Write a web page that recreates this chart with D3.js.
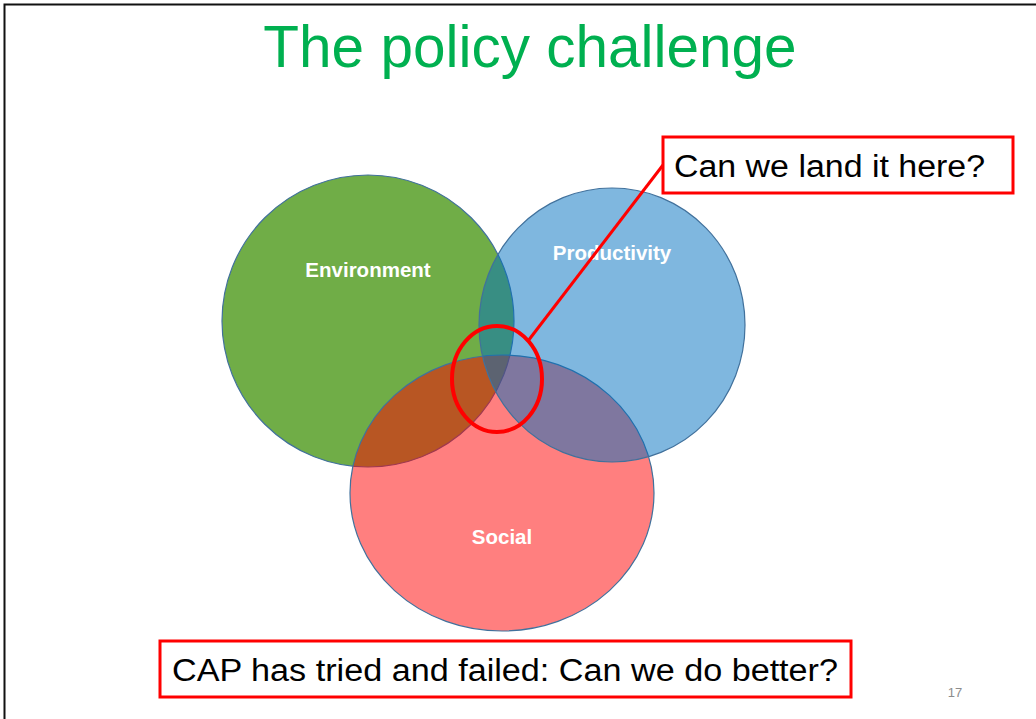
<!DOCTYPE html>
<html>
<head>
<meta charset="utf-8">
<script src="https://cdn.jsdelivr.net/npm/d3@7"></script>
<style>
  html, body { margin: 0; padding: 0; background: #fff; }
  svg { display: block; }
</style>
</head>
<body>
<div id="chart"></div>
<script>
// Data
var titleText = "The policy challenge";
var setNames = ["Environment", "Social", "Productivity"];
var calloutText = "Can we land it here?";
var footerText = "CAP has tried and failed: Can we do better?";
var pageNumber = "17";

// layout (pixel geometry, kept apart from the data)
var setShape = {
  "Environment": {cx: 368, cy: 321, rx: 146, ry: 146, lx: 368, ly: 277, fill: "#70AD47", op: 1},
  "Social":      {cx: 502, cy: 493, rx: 152, ry: 138, lx: 502, ly: 544, fill: "#FF0000", op: 0.5},
  "Productivity":{cx: 612, cy: 325, rx: 133, ry: 137, lx: 612, ly: 260, fill: "#0070C0", op: 0.5}
};
var focus = {cx: 497, cy: 379, rx: 45, ry: 53};
var calloutBox = {x: 663, y: 137, w: 350, h: 56};
var footerBox = {x: 160, y: 641, w: 691, h: 56};

var W = 1036, H = 719;
var svg = d3.select("#chart")
    .append("svg")
    .attr("width", W)
    .attr("height", H);

// slide frame (top and left edges are visible)
svg.append("path")
    .attr("d", "M4.5," + H + " L4.5,4.5 L" + W + ",4.5")
    .attr("fill", "none")
    .attr("stroke", "#111")
    .attr("stroke-width", 2);

svg.append("text")
    .attr("x", 530)
    .attr("y", 67)
    .attr("text-anchor", "middle")
    .style("font-family", "Liberation Sans, Arial, sans-serif")
    .style("font-size", "58.5px")
    .attr("fill", "#00B050")
    .text(titleText);

// circles
svg.selectAll("ellipse.set")
    .data(setNames)
    .enter()
    .append("ellipse")
    .attr("class", "set")
    .attr("cx", function(d) { return setShape[d].cx; })
    .attr("cy", function(d) { return setShape[d].cy; })
    .attr("rx", function(d) { return setShape[d].rx; })
    .attr("ry", function(d) { return setShape[d].ry; })
    .attr("fill", function(d) { return setShape[d].fill; })
    .attr("fill-opacity", function(d) { return setShape[d].op; })
    .attr("stroke", "#41719C")
    .attr("stroke-width", 1.2);

svg.selectAll("text.lbl")
    .data(setNames)
    .enter()
    .append("text")
    .attr("class", "lbl")
    .attr("x", function(d) { return setShape[d].lx; })
    .attr("y", function(d) { return setShape[d].ly; })
    .attr("text-anchor", "middle")
    .style("font-family", "Liberation Sans, Arial, sans-serif")
    .style("font-weight", "bold")
    .style("font-size", "20.5px")
    .attr("fill", "#fff")
    .text(function(d) { return d; });

// callout line + highlight ring
svg.append("line")
    .attr("x1", 528).attr("y1", 341)
    .attr("x2", calloutBox.x).attr("y2", 165)
    .attr("stroke", "#FF0000")
    .attr("stroke-width", 3);

svg.append("ellipse")
    .attr("cx", focus.cx).attr("cy", focus.cy)
    .attr("rx", focus.rx).attr("ry", focus.ry)
    .attr("fill", "none")
    .attr("stroke", "#FF0000")
    .attr("stroke-width", 4);

function box(b, txt, tx, ty, len) {
  svg.append("rect")
      .attr("x", b.x).attr("y", b.y)
      .attr("width", b.w).attr("height", b.h)
      .attr("fill", "#fff")
      .attr("stroke", "#FF0000")
      .attr("stroke-width", 3);
  svg.append("text")
      .attr("x", tx).attr("y", ty)
      .attr("textLength", len)
      .attr("lengthAdjust", "spacingAndGlyphs")
      .style("font-family", "Liberation Sans, Arial, sans-serif")
      .style("font-size", "31px")
      .attr("fill", "#000")
      .text(txt);
}
box(calloutBox, calloutText, 674, 177, 311);
box(footerBox, footerText, 172, 681, 666);

svg.append("text")
    .attr("x", 955)
    .attr("y", 697)
    .attr("text-anchor", "middle")
    .style("font-family", "Liberation Sans, Arial, sans-serif")
    .style("font-size", "13px")
    .attr("fill", "#8C8C8C")
    .text(pageNumber);
</script>
</body>
</html>
